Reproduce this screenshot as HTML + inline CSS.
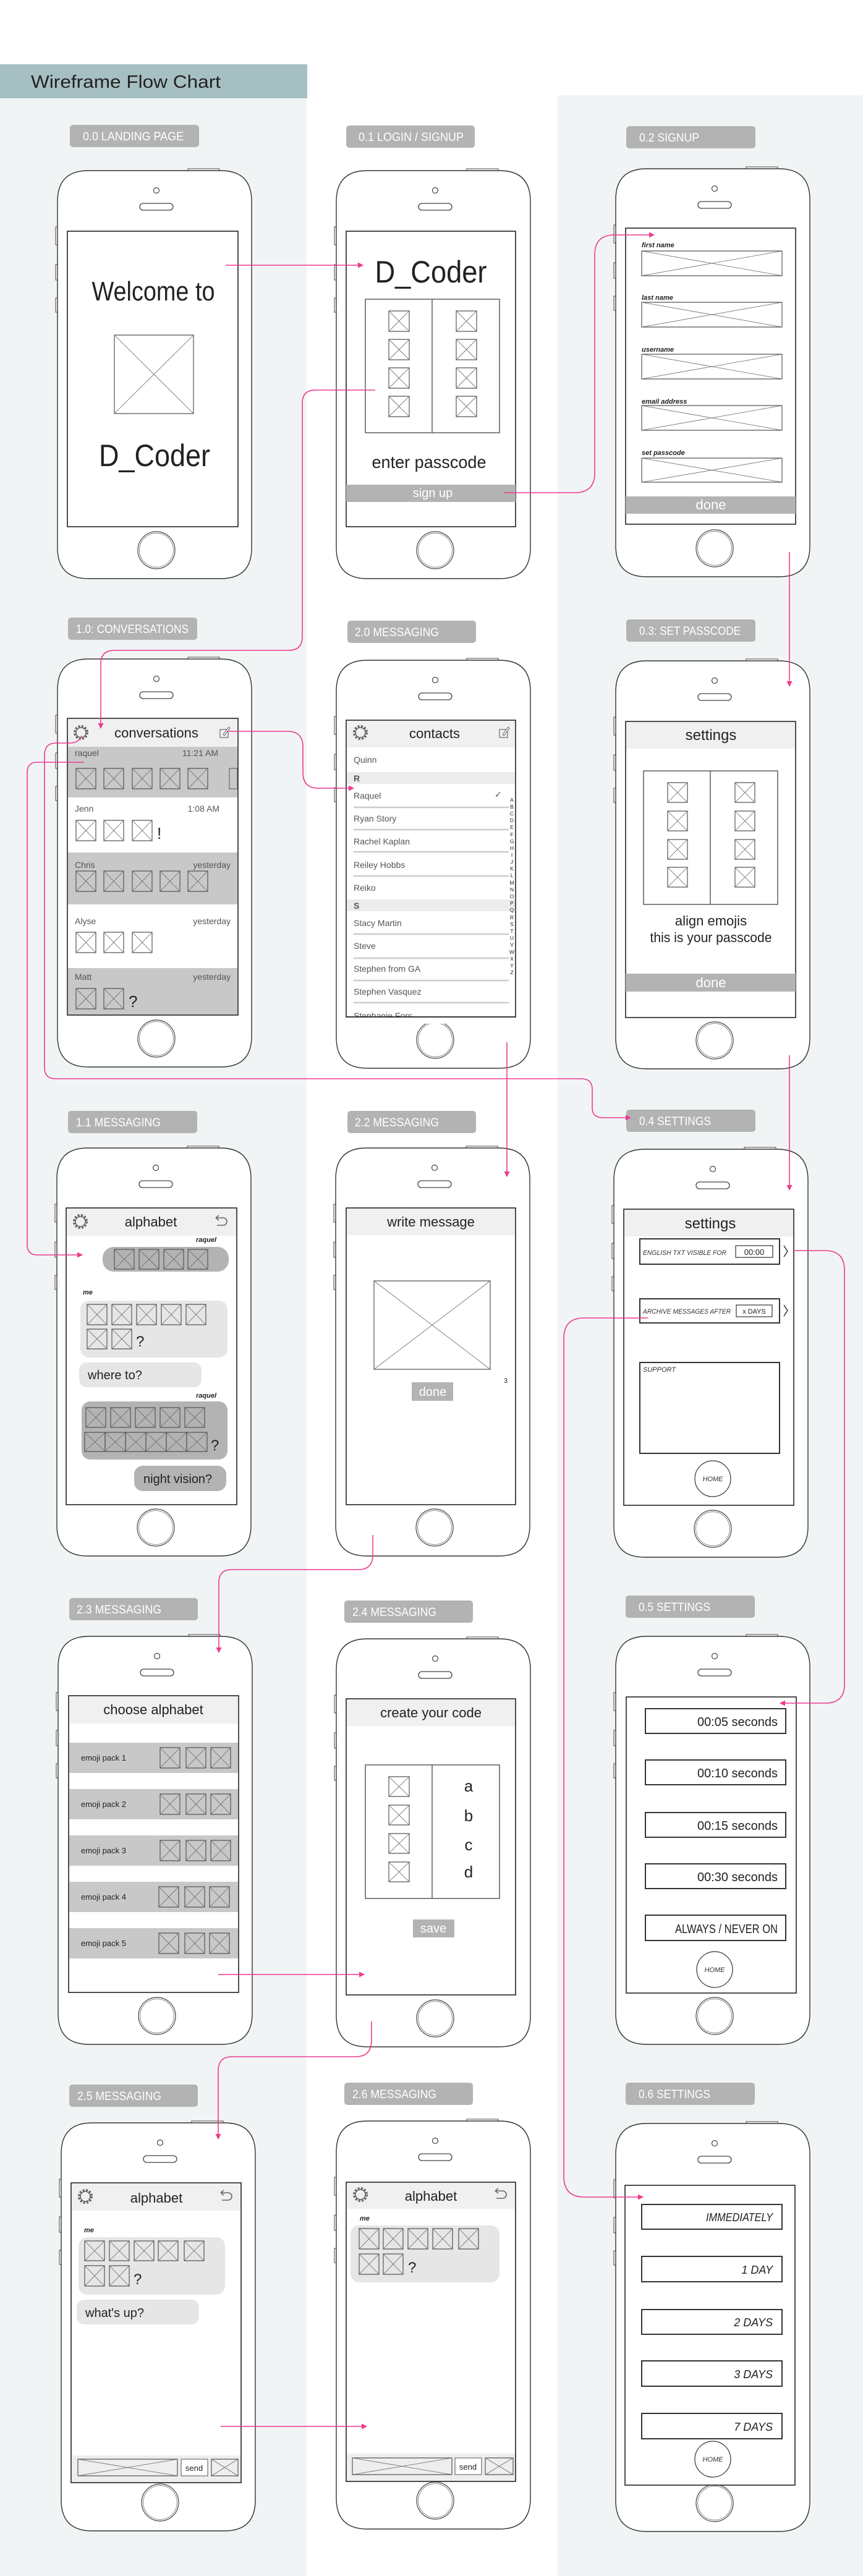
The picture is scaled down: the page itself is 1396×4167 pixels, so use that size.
<!DOCTYPE html>
<html><head><meta charset="utf-8"><style>
html,body{margin:0;padding:0;background:#fff}
svg{display:block}
text{font-family:"Liberation Sans Narrow","Liberation Sans",sans-serif;fill:#222}
.lb{fill:#fff;font-size:19px}
.sm{font-size:14px;fill:#555}
.it{font-style:italic;font-size:11px;fill:#333}
.ib{font-style:italic;font-weight:bold;font-size:11px;fill:#222}
.w{fill:#fff}
.pk{fill:none;stroke:#ee3a8e;stroke-width:1.6}
.scr{fill:#fff;stroke:#222;stroke-width:1.6}
.bx{fill:#fff;stroke:#333;stroke-width:2}
</style></head><body>
<svg width="1396" height="4167" viewBox="0 0 1396 4167" xmlns="http://www.w3.org/2000/svg">
<defs>
<marker id="a" markerWidth="9" markerHeight="9" refX="8" refY="4.5" orient="auto" markerUnits="userSpaceOnUse"><path d="M0,0 L9,4.5 L0,9 z" fill="#ee3a8e"/></marker>
<symbol id="xb" viewBox="0 0 10 10" preserveAspectRatio="none" overflow="visible">
<rect x="0" y="0" width="10" height="10" fill="none" stroke="#555" stroke-width="1.2" vector-effect="non-scaling-stroke"/>
<path d="M0,0 L10,10 M10,0 L0,10" stroke="#666" stroke-width="0.8" vector-effect="non-scaling-stroke"/>
</symbol>
<g id="phone">
<rect x="211" y="-3" width="51" height="4" fill="#fff" stroke="#444" stroke-width="1"/>
<rect x="-3" y="91" width="4" height="29" fill="#fff" stroke="#444" stroke-width="1"/>
<rect x="-3" y="152" width="4" height="25" fill="#fff" stroke="#444" stroke-width="1"/>
<rect x="-3" y="206" width="4" height="23" fill="#fff" stroke="#444" stroke-width="1"/>
<path d="M50,0 H264 Q314,0 314,50 V610 Q314,660 264,660 H50 Q0,660 0,610 V50 Q0,0 50,0Z" fill="#fff" stroke="#333" stroke-width="1.4"/>
<circle cx="160" cy="32" r="4.5" fill="none" stroke="#444" stroke-width="1.2"/>
<rect x="133" y="53" width="54" height="11" rx="5.5" fill="none" stroke="#444" stroke-width="1.3"/>
<circle cx="160" cy="614" r="30" fill="none" stroke="#444" stroke-width="1.2"/>
<circle cx="160" cy="614" r="27.5" fill="none" stroke="#888" stroke-width="1"/>
</g>
<g id="gear"><circle r="10" fill="none" stroke="#666" stroke-width="4" stroke-dasharray="3 2.3"/><circle r="8" fill="#f0f0f0" stroke="#666" stroke-width="1.5"/></g>
<g id="back"><path d="M-8,-6 H4 A6,6 0 0 1 4,6 H-6" fill="none" stroke="#666" stroke-width="1.6"/><path d="M-8,-6 L-3,-10 M-8,-6 L-3,-2" stroke="#666" stroke-width="1.6" fill="none"/></g>
<g id="comp"><rect x="-7" y="-5" width="13" height="13" fill="none" stroke="#777" stroke-width="1.3"/><path d="M-2,3 L7,-9 L9,-7 L0,5 Z" fill="#fff" stroke="#777" stroke-width="1.2"/></g>
</defs>

<!-- backgrounds -->
<rect x="0" y="159" width="496" height="4008" fill="#f1f4f5"/>
<rect x="902" y="154" width="494" height="4013" fill="#f1f4f5"/>
<rect x="0" y="104" width="497" height="55" fill="#a6bfc3"/>
<text x="50" y="142" font-size="29" textLength="307" lengthAdjust="spacingAndGlyphs">Wireframe Flow Chart</text>

<!-- labels -->
<g fill="#b3b3b3">
<rect x="113" y="202" width="209" height="36" rx="5"/><rect x="560" y="203" width="208" height="36" rx="5"/><rect x="1013" y="204" width="209" height="36" rx="5"/>
<rect x="110" y="999" width="209" height="36" rx="5"/><rect x="562" y="1004" width="208" height="36" rx="5"/><rect x="1013" y="1002" width="209" height="36" rx="5"/>
<rect x="110" y="1797" width="209" height="36" rx="5"/><rect x="562" y="1797" width="208" height="36" rx="5"/><rect x="1013" y="1795" width="209" height="36" rx="5"/>
<rect x="112" y="2585" width="208" height="36" rx="5"/><rect x="557" y="2589" width="208" height="36" rx="5"/><rect x="1012" y="2581" width="209" height="36" rx="5"/>
<rect x="112" y="3372" width="208" height="36" rx="5"/><rect x="557" y="3369" width="208" height="36" rx="5"/><rect x="1012" y="3369" width="209" height="36" rx="5"/>
</g>
<text class="lb" x="134" y="227" textLength="163" lengthAdjust="spacingAndGlyphs">0.0 LANDING PAGE</text>
<text class="lb" x="580" y="228" textLength="170" lengthAdjust="spacingAndGlyphs">0.1 LOGIN / SIGNUP</text>
<text class="lb" x="1034" y="229" textLength="97" lengthAdjust="spacingAndGlyphs">0.2 SIGNUP</text>
<text class="lb" x="123" y="1024" textLength="182" lengthAdjust="spacingAndGlyphs">1.0: CONVERSATIONS</text>
<text class="lb" x="574" y="1029" textLength="136" lengthAdjust="spacingAndGlyphs">2.0 MESSAGING</text>
<text class="lb" x="1034" y="1027" textLength="164" lengthAdjust="spacingAndGlyphs">0.3: SET PASSCODE</text>
<text class="lb" x="123" y="1822" textLength="137" lengthAdjust="spacingAndGlyphs">1.1 MESSAGING</text>
<text class="lb" x="574" y="1822" textLength="136" lengthAdjust="spacingAndGlyphs">2.2 MESSAGING</text>
<text class="lb" x="1034" y="1820" textLength="116" lengthAdjust="spacingAndGlyphs">0.4 SETTINGS</text>
<text class="lb" x="124" y="2610" textLength="137" lengthAdjust="spacingAndGlyphs">2.3 MESSAGING</text>
<text class="lb" x="570" y="2614" textLength="136" lengthAdjust="spacingAndGlyphs">2.4 MESSAGING</text>
<text class="lb" x="1033" y="2606" textLength="116" lengthAdjust="spacingAndGlyphs">0.5 SETTINGS</text>
<text class="lb" x="125" y="3397" textLength="136" lengthAdjust="spacingAndGlyphs">2.5 MESSAGING</text>
<text class="lb" x="570" y="3394" textLength="136" lengthAdjust="spacingAndGlyphs">2.6 MESSAGING</text>
<text class="lb" x="1033" y="3394" textLength="116" lengthAdjust="spacingAndGlyphs">0.6 SETTINGS</text>

<!-- phones -->
<use href="#phone" x="93" y="276"/><use href="#phone" x="544" y="276"/><use href="#phone" x="996" y="273"/>
<use href="#phone" x="93" y="1066"/><use href="#phone" x="544" y="1068"/><use href="#phone" x="996" y="1069"/>
<use href="#phone" x="92" y="1857"/><use href="#phone" x="543" y="1857"/><use href="#phone" x="993" y="1859"/>
<use href="#phone" x="94" y="2647"/><use href="#phone" x="544" y="2651"/><use href="#phone" x="996" y="2647"/>
<use href="#phone" x="99" y="3434"/><use href="#phone" x="544" y="3431"/><use href="#phone" x="996" y="3435"/>

<!-- R1 P1 -->
<rect class="scr" x="109" y="374" width="276" height="478"/>
<text x="248" y="486" font-size="44" text-anchor="middle" textLength="199" lengthAdjust="spacingAndGlyphs">Welcome to</text>
<use href="#xb" x="185" y="542" width="128" height="127"/>
<text x="250" y="754" font-size="50" text-anchor="middle" textLength="180" lengthAdjust="spacingAndGlyphs">D_Coder</text>

<!-- R1 P2 -->
<rect class="scr" x="560" y="374" width="274" height="478"/>
<text x="697" y="457" font-size="50" text-anchor="middle" textLength="181" lengthAdjust="spacingAndGlyphs">D_Coder</text>
<rect x="591" y="484" width="217" height="216" fill="none" stroke="#444" stroke-width="1.3"/>
<line x1="699" y1="484" x2="699" y2="700" stroke="#444" stroke-width="1.3"/>
<use href="#xb" x="629" y="503" width="33" height="33"/><use href="#xb" x="738" y="503" width="33" height="33"/>
<use href="#xb" x="629" y="549" width="33" height="33"/><use href="#xb" x="738" y="549" width="33" height="33"/>
<use href="#xb" x="629" y="595" width="33" height="33"/><use href="#xb" x="738" y="595" width="33" height="33"/>
<use href="#xb" x="629" y="641" width="33" height="33"/><use href="#xb" x="738" y="641" width="33" height="33"/>
<text x="694" y="757" font-size="28" text-anchor="middle" textLength="185" lengthAdjust="spacingAndGlyphs">enter passcode</text>
<rect x="560" y="784" width="274" height="28" fill="#b3b3b3"/>
<text class="w" x="700" y="804" font-size="20" text-anchor="middle">sign up</text>

<!-- R1 P3 -->
<rect class="scr" x="1012" y="369" width="275" height="479"/>
<text class="ib" x="1038" y="400">first name</text><use href="#xb" x="1038" y="406" width="227" height="40"/>
<text class="ib" x="1038" y="485">last name</text><use href="#xb" x="1038" y="489" width="227" height="40"/>
<text class="ib" x="1038" y="569">username</text><use href="#xb" x="1038" y="573" width="227" height="40"/>
<text class="ib" x="1038" y="653">email address</text><use href="#xb" x="1038" y="656" width="227" height="40"/>
<text class="ib" x="1038" y="736">set passcode</text><use href="#xb" x="1038" y="741" width="227" height="39"/>
<rect x="1012" y="803" width="275" height="28" fill="#b3b3b3"/>
<text class="w" x="1150" y="824" font-size="22" text-anchor="middle">done</text>

<!-- R2 P1 conversations -->
<rect class="scr" x="109" y="1162" width="276" height="480"/>
<rect x="110" y="1163" width="274" height="45" fill="#f0f0f0"/>
<use href="#gear" x="131" y="1185"/>
<text x="253" y="1193" font-size="22" text-anchor="middle">conversations</text>
<use href="#comp" x="363" y="1185"/>
<rect x="110" y="1208" width="274" height="82" fill="#c8c8c8"/>
<text class="sm" x="121" y="1223">raquel</text><text class="sm" x="353" y="1223" text-anchor="end">11:21 AM</text>
<use href="#xb" x="123" y="1243" width="32" height="33"/><use href="#xb" x="168" y="1243" width="32" height="33"/><use href="#xb" x="214" y="1243" width="32" height="33"/><use href="#xb" x="259" y="1243" width="32" height="33"/><use href="#xb" x="304" y="1243" width="32" height="33"/>
<rect x="371" y="1243" width="13" height="33" fill="none" stroke="#555"/>
<text class="sm" x="121" y="1313">Jenn</text><text class="sm" x="355" y="1313" text-anchor="end">1:08 AM</text>
<use href="#xb" x="123" y="1327" width="32" height="33"/><use href="#xb" x="168" y="1327" width="32" height="33"/><use href="#xb" x="214" y="1327" width="32" height="33"/>
<text x="254" y="1357" font-size="26">!</text>
<rect x="110" y="1379" width="274" height="84" fill="#c8c8c8"/>
<text class="sm" x="121" y="1404">Chris</text><text class="sm" x="373" y="1404" text-anchor="end">yesterday</text>
<use href="#xb" x="123" y="1409" width="32" height="33"/><use href="#xb" x="168" y="1409" width="32" height="33"/><use href="#xb" x="214" y="1409" width="32" height="33"/><use href="#xb" x="259" y="1409" width="32" height="33"/><use href="#xb" x="304" y="1409" width="32" height="33"/>
<text class="sm" x="121" y="1495">Alyse</text><text class="sm" x="373" y="1495" text-anchor="end">yesterday</text>
<use href="#xb" x="123" y="1508" width="32" height="33"/><use href="#xb" x="168" y="1508" width="32" height="33"/><use href="#xb" x="214" y="1508" width="32" height="33"/>
<rect x="110" y="1566" width="274" height="75" fill="#c8c8c8"/>
<text class="sm" x="121" y="1585">Matt</text><text class="sm" x="373" y="1585" text-anchor="end">yesterday</text>
<use href="#xb" x="123" y="1599" width="32" height="33"/><use href="#xb" x="168" y="1599" width="32" height="33"/>
<text x="208" y="1629" font-size="26" fill="#444">?</text>

<!-- R2 P2 contacts -->
<rect class="scr" x="560" y="1165" width="274" height="480"/>
<rect x="561" y="1166" width="272" height="43" fill="#f0f0f0"/>
<use href="#gear" x="583" y="1185"/>
<text x="703" y="1194" font-size="22" text-anchor="middle">contacts</text>
<use href="#comp" x="815" y="1185"/>
<text class="sm" x="572" y="1234">Quinn</text>
<rect x="561" y="1249" width="272" height="19" fill="#ececec"/><text class="sm" x="572" y="1264" font-weight="bold">R</text>
<text class="sm" x="572" y="1292">Raquel</text><text class="sm" x="800" y="1290" font-size="16">✓</text>
<g stroke="#ccc" stroke-width="2.5"><line x1="572" y1="1306" x2="823" y2="1306"/><line x1="572" y1="1342" x2="823" y2="1342"/><line x1="572" y1="1378" x2="823" y2="1378"/><line x1="572" y1="1417" x2="823" y2="1417"/><line x1="572" y1="1511" x2="823" y2="1511"/><line x1="572" y1="1550" x2="823" y2="1550"/><line x1="572" y1="1586" x2="823" y2="1586"/><line x1="572" y1="1622" x2="823" y2="1622"/></g>
<text class="sm" x="572" y="1329">Ryan Story</text>
<text class="sm" x="572" y="1366">Rachel Kaplan</text>
<text class="sm" x="572" y="1404">Reiley Hobbs</text>
<text class="sm" x="572" y="1441">Reiko</text>
<rect x="561" y="1455" width="272" height="19" fill="#ececec"/><text class="sm" x="572" y="1470" font-weight="bold">S</text>
<text class="sm" x="572" y="1498">Stacy Martin</text>
<text class="sm" x="572" y="1535">Steve</text>
<text class="sm" x="572" y="1572">Stephen from GA</text>
<text class="sm" x="572" y="1609">Stephen Vasquez</text>
<text class="sm" x="572" y="1648">Stephanie Fors</text>
<rect x="558" y="1646" width="278" height="10" fill="#fff"/>
<line x1="560" y1="1645" x2="834" y2="1645" stroke="#222" stroke-width="1.6"/>
<g font-size="8.5" text-anchor="middle" fill="#555">
<text x="828" y="1297">A</text><text x="828" y="1308">B</text><text x="828" y="1319">C</text><text x="828" y="1330">D</text><text x="828" y="1341">E</text><text x="828" y="1353">F</text><text x="828" y="1364">G</text><text x="828" y="1375">H</text><text x="828" y="1386">I</text><text x="828" y="1397">J</text><text x="828" y="1408">K</text><text x="828" y="1419">L</text><text x="828" y="1431">M</text><text x="828" y="1442">N</text><text x="828" y="1453">O</text><text x="828" y="1464">P</text><text x="828" y="1475">Q</text><text x="828" y="1487">R</text><text x="828" y="1498">S</text><text x="828" y="1509">T</text><text x="828" y="1520">U</text><text x="828" y="1531">V</text><text x="828" y="1543">W</text><text x="828" y="1554">X</text><text x="828" y="1565">Y</text><text x="828" y="1576">Z</text>
</g>

<!-- R2 P3 set passcode -->
<rect class="scr" x="1012" y="1167" width="275" height="479"/>
<rect x="1013" y="1168" width="273" height="43" fill="#f0f0f0"/>
<text x="1150" y="1197" font-size="24" text-anchor="middle">settings</text>
<rect x="1041" y="1247" width="217" height="216" fill="none" stroke="#444" stroke-width="1.3"/>
<line x1="1149" y1="1247" x2="1149" y2="1463" stroke="#444" stroke-width="1.3"/>
<use href="#xb" x="1080" y="1266" width="32" height="32"/><use href="#xb" x="1189" y="1266" width="32" height="32"/>
<use href="#xb" x="1080" y="1312" width="32" height="32"/><use href="#xb" x="1189" y="1312" width="32" height="32"/>
<use href="#xb" x="1080" y="1358" width="32" height="32"/><use href="#xb" x="1189" y="1358" width="32" height="32"/>
<use href="#xb" x="1080" y="1403" width="32" height="32"/><use href="#xb" x="1189" y="1403" width="32" height="32"/>
<text x="1150" y="1497" font-size="22" text-anchor="middle">align emojis</text>
<text x="1150" y="1524" font-size="22" text-anchor="middle" textLength="197" lengthAdjust="spacingAndGlyphs">this is your passcode</text>
<rect x="1012" y="1575" width="275" height="29" fill="#b3b3b3"/>
<text class="w" x="1150" y="1597" font-size="22" text-anchor="middle">done</text>

<!-- R3 P1 1.1 messaging -->
<rect class="scr" x="107" y="1954" width="276" height="480"/>
<rect x="108" y="1955" width="274" height="44" fill="#f0f0f0"/>
<use href="#gear" x="130" y="1976"/>
<text x="244" y="1984" font-size="22" text-anchor="middle">alphabet</text>
<use href="#back" x="357" y="1976"/>
<text class="ib" x="350" y="2009" text-anchor="end">raquel</text>
<rect x="166" y="2017" width="204" height="40" rx="18" fill="#b3b3b3"/>
<use href="#xb" x="185" y="2021" width="32" height="32"/><use href="#xb" x="225" y="2021" width="32" height="32"/><use href="#xb" x="265" y="2021" width="32" height="32"/><use href="#xb" x="304" y="2021" width="32" height="32"/>
<text class="ib" x="134" y="2094">me</text>
<rect x="130" y="2104" width="238" height="92" rx="14" fill="#e6e6e6"/>
<use href="#xb" x="141" y="2110" width="32" height="33"/><use href="#xb" x="181" y="2110" width="32" height="33"/><use href="#xb" x="221" y="2110" width="32" height="33"/><use href="#xb" x="261" y="2110" width="32" height="33"/><use href="#xb" x="301" y="2110" width="32" height="33"/>
<use href="#xb" x="141" y="2150" width="32" height="32"/><use href="#xb" x="181" y="2150" width="32" height="32"/>
<text x="220" y="2178" font-size="24">?</text>
<rect x="128" y="2204" width="198" height="40" rx="12" fill="#e6e6e6"/>
<text x="142" y="2231" font-size="20">where to?</text>
<text class="ib" x="350" y="2261" text-anchor="end">raquel</text>
<rect x="132" y="2267" width="236" height="94" rx="14" fill="#b3b3b3"/>
<use href="#xb" x="139" y="2277" width="32" height="32"/><use href="#xb" x="179" y="2277" width="32" height="32"/><use href="#xb" x="219" y="2277" width="32" height="32"/><use href="#xb" x="259" y="2277" width="32" height="32"/><use href="#xb" x="299" y="2277" width="32" height="32"/>
<use href="#xb" x="137" y="2317" width="33" height="31"/><use href="#xb" x="170" y="2317" width="33" height="31"/><use href="#xb" x="203" y="2317" width="33" height="31"/><use href="#xb" x="236" y="2317" width="33" height="31"/><use href="#xb" x="269" y="2317" width="33" height="31"/><use href="#xb" x="302" y="2317" width="33" height="31"/>
<text x="341" y="2346" font-size="24">?</text>
<rect x="217" y="2371" width="149" height="41" rx="14" fill="#b3b3b3"/>
<text x="232" y="2399" font-size="20">night vision?</text>

<!-- R3 P2 write message -->
<rect class="scr" x="560" y="1954" width="274" height="480"/>
<rect x="561" y="1955" width="272" height="43" fill="#f0f0f0"/>
<text x="697" y="1984" font-size="22" text-anchor="middle">write message</text>
<use href="#xb" x="605" y="2072" width="188" height="143"/>
<text x="815" y="2237" font-size="11">3</text>
<rect x="666" y="2236" width="67" height="30" fill="#b3b3b3"/>
<text class="w" x="700" y="2258" font-size="20" text-anchor="middle">done</text>

<!-- R3 P3 0.4 settings -->
<rect class="scr" x="1009" y="1956" width="275" height="479"/>
<rect x="1010" y="1957" width="273" height="43" fill="#f0f0f0"/>
<text x="1149" y="1987" font-size="24" text-anchor="middle">settings</text>
<rect class="bx" x="1035" y="2004" width="226" height="41"/>
<text class="it" x="1040" y="2030" textLength="135" lengthAdjust="spacingAndGlyphs">ENGLISH TXT VISIBLE FOR</text>
<rect x="1190" y="2015" width="60" height="19" fill="#fff" stroke="#333" stroke-width="1.2"/>
<text x="1220" y="2030" font-size="13" text-anchor="middle" fill="#333">00:00</text>
<polyline points="1268,2015 1274,2024 1268,2033" fill="none" stroke="#333" stroke-width="1.5"/>
<rect class="bx" x="1035" y="2101" width="226" height="39"/>
<text class="it" x="1040" y="2125" textLength="142" lengthAdjust="spacingAndGlyphs">ARCHIVE MESSAGES AFTER</text>
<rect x="1191" y="2111" width="58" height="19" fill="#fff" stroke="#333" stroke-width="1.2"/>
<text x="1220" y="2125" font-size="11" text-anchor="middle" fill="#333">x DAYS</text>
<polyline points="1268,2111 1274,2120 1268,2129" fill="none" stroke="#333" stroke-width="1.5"/>
<rect class="bx" x="1035" y="2204" width="226" height="147"/>
<text class="it" x="1040" y="2219">SUPPORT</text>
<circle cx="1153" cy="2392" r="29" fill="#fff" stroke="#333" stroke-width="1.2"/>
<text class="it" x="1153" y="2396" text-anchor="middle">HOME</text>

<!-- R4 P1 choose alphabet -->
<rect class="scr" x="111" y="2743" width="275" height="480"/>
<rect x="112" y="2744" width="273" height="44" fill="#f0f0f0"/>
<text x="248" y="2773" font-size="22" text-anchor="middle">choose alphabet</text>
<g fill="#c8c8c8"><rect x="112" y="2819" width="273" height="49"/><rect x="112" y="2894" width="273" height="49"/><rect x="112" y="2969" width="273" height="49"/><rect x="112" y="3044" width="273" height="49"/><rect x="112" y="3119" width="273" height="49"/></g>
<text x="131" y="2848" font-size="13">emoji pack 1</text><text x="131" y="2923" font-size="13">emoji pack 2</text><text x="131" y="2998" font-size="13">emoji pack 3</text><text x="131" y="3073" font-size="13">emoji pack 4</text><text x="131" y="3148" font-size="13">emoji pack 5</text>
<use href="#xb" x="259" y="2827" width="32" height="33"/><use href="#xb" x="301" y="2827" width="32" height="33"/><use href="#xb" x="341" y="2827" width="32" height="33"/>
<use href="#xb" x="259" y="2902" width="32" height="33"/><use href="#xb" x="301" y="2902" width="32" height="33"/><use href="#xb" x="341" y="2902" width="32" height="33"/>
<use href="#xb" x="259" y="2977" width="32" height="33"/><use href="#xb" x="301" y="2977" width="32" height="33"/><use href="#xb" x="341" y="2977" width="32" height="33"/>
<use href="#xb" x="257" y="3052" width="32" height="33"/><use href="#xb" x="299" y="3052" width="32" height="33"/><use href="#xb" x="339" y="3052" width="32" height="33"/>
<use href="#xb" x="257" y="3127" width="32" height="33"/><use href="#xb" x="299" y="3127" width="32" height="33"/><use href="#xb" x="339" y="3127" width="32" height="33"/>

<!-- R4 P2 create your code -->
<rect class="scr" x="560" y="2748" width="274" height="479"/>
<rect x="561" y="2749" width="272" height="43" fill="#f0f0f0"/>
<text x="697" y="2778" font-size="22" text-anchor="middle">create your code</text>
<rect x="591" y="2855" width="217" height="216" fill="none" stroke="#444" stroke-width="1.3"/>
<line x1="699" y1="2855" x2="699" y2="3071" stroke="#444" stroke-width="1.3"/>
<use href="#xb" x="629" y="2874" width="33" height="32"/><use href="#xb" x="629" y="2920" width="33" height="32"/><use href="#xb" x="629" y="2966" width="33" height="32"/><use href="#xb" x="629" y="3012" width="33" height="32"/>
<g font-size="26" text-anchor="middle"><text x="758" y="2898">a</text><text x="758" y="2946">b</text><text x="758" y="2993">c</text><text x="758" y="3037">d</text></g>
<rect x="668" y="3105" width="67" height="29" fill="#b3b3b3"/>
<text class="w" x="701" y="3126" font-size="20" text-anchor="middle">save</text>

<!-- R4 P3 0.5 settings -->
<rect class="scr" x="1013" y="2745" width="275" height="479"/>
<rect class="bx" x="1044" y="2764" width="227" height="40"/><rect class="bx" x="1044" y="2847" width="227" height="40"/><rect class="bx" x="1044" y="2932" width="227" height="40"/><rect class="bx" x="1044" y="3015" width="227" height="40"/><rect class="bx" x="1044" y="3098" width="227" height="41"/>
<g font-size="20" text-anchor="end" fill="#444">
<text x="1258" y="2792" textLength="130" lengthAdjust="spacingAndGlyphs" fill="#444">00:05 seconds</text>
<text x="1258" y="2875" textLength="130" lengthAdjust="spacingAndGlyphs" fill="#444">00:10 seconds</text>
<text x="1258" y="2960" textLength="130" lengthAdjust="spacingAndGlyphs" fill="#444">00:15 seconds</text>
<text x="1258" y="3043" textLength="130" lengthAdjust="spacingAndGlyphs" fill="#444">00:30 seconds</text>
<text x="1258" y="3127" textLength="166" lengthAdjust="spacingAndGlyphs" fill="#444">ALWAYS / NEVER ON</text>
</g>
<circle cx="1156" cy="3186" r="29" fill="#fff" stroke="#333" stroke-width="1.2"/>
<text class="it" x="1156" y="3190" text-anchor="middle">HOME</text>

<!-- R5 P1 2.5 -->
<rect class="scr" x="115" y="3531" width="275" height="485"/>
<rect x="116" y="3532" width="273" height="44" fill="#f0f0f0"/>
<use href="#gear" x="138" y="3553"/>
<text x="253" y="3563" font-size="22" text-anchor="middle">alphabet</text>
<use href="#back" x="365" y="3553"/>
<text class="ib" x="136" y="3611">me</text>
<rect x="127" y="3619" width="237" height="93" rx="14" fill="#e6e6e6"/>
<use href="#xb" x="137" y="3625" width="32" height="32"/><use href="#xb" x="177" y="3625" width="32" height="32"/><use href="#xb" x="217" y="3625" width="32" height="32"/><use href="#xb" x="256" y="3625" width="32" height="32"/><use href="#xb" x="298" y="3625" width="32" height="32"/>
<use href="#xb" x="137" y="3665" width="32" height="33"/><use href="#xb" x="177" y="3665" width="32" height="33"/>
<text x="216" y="3695" font-size="24">?</text>
<rect x="124" y="3720" width="198" height="40" rx="12" fill="#e6e6e6"/>
<text x="138" y="3748" font-size="20">what's up?</text>
<rect x="116" y="3972" width="273" height="43" fill="#eee"/>
<use href="#xb" x="126" y="3978" width="161" height="27"/>
<rect x="293" y="3978" width="43" height="27" fill="#fff" stroke="#555"/><text x="314" y="3997" font-size="13" text-anchor="middle">send</text>
<use href="#xb" x="342" y="3978" width="43" height="27"/>

<!-- R5 P2 2.6 -->
<rect class="scr" x="560" y="3530" width="274" height="484"/>
<rect x="561" y="3531" width="272" height="42" fill="#f0f0f0"/>
<use href="#gear" x="583" y="3550"/>
<text x="697" y="3560" font-size="22" text-anchor="middle">alphabet</text>
<use href="#back" x="809" y="3550"/>
<text class="ib" x="582" y="3592">me</text>
<rect x="567" y="3600" width="241" height="92" rx="14" fill="#e6e6e6"/>
<use href="#xb" x="581" y="3605" width="32" height="33"/><use href="#xb" x="620" y="3605" width="32" height="33"/><use href="#xb" x="660" y="3605" width="32" height="33"/><use href="#xb" x="700" y="3605" width="32" height="33"/><use href="#xb" x="742" y="3605" width="32" height="33"/>
<use href="#xb" x="581" y="3646" width="32" height="33"/><use href="#xb" x="620" y="3646" width="32" height="33"/>
<text x="660" y="3676" font-size="24">?</text>
<rect x="561" y="3969" width="272" height="44" fill="#eee"/>
<use href="#xb" x="570" y="3976" width="161" height="27"/>
<rect x="736" y="3976" width="43" height="27" fill="#fff" stroke="#555"/><text x="757" y="3995" font-size="13" text-anchor="middle">send</text>
<use href="#xb" x="785" y="3976" width="45" height="27"/>

<!-- R5 P3 0.6 -->
<rect class="scr" x="1011" y="3535" width="275" height="485"/>
<rect class="bx" x="1038" y="3566" width="227" height="40"/><rect class="bx" x="1038" y="3650" width="227" height="41"/><rect class="bx" x="1038" y="3736" width="227" height="40"/><rect class="bx" x="1038" y="3819" width="227" height="41"/><rect class="bx" x="1038" y="3904" width="227" height="41"/>
<g font-size="18" font-style="italic" text-anchor="end">
<text x="1250" y="3593" textLength="108" lengthAdjust="spacingAndGlyphs" fill="#333">IMMEDIATELY</text>
<text x="1250" y="3678" fill="#333">1 DAY</text>
<text x="1250" y="3763" fill="#333">2 DAYS</text>
<text x="1250" y="3847" fill="#333">3 DAYS</text>
<text x="1250" y="3932" fill="#333">7 DAYS</text>
</g>
<circle cx="1153" cy="3978" r="29" fill="#fff" stroke="#333" stroke-width="1.2"/>
<text class="it" x="1153" y="3982" text-anchor="middle">HOME</text>

<!-- connectors -->
<g class="pk">
<path d="M365,429 H587" marker-end="url(#a)"/>
<path d="M607,631 H510 Q489,631 489,652 V1030 Q489,1052 467,1052 H185 Q163,1052 163,1074 V1178" marker-end="url(#a)"/>
<path d="M816,797 H930 Q962,797 962,765 V412 Q962,380 994,380 H1058" marker-end="url(#a)"/>
<path d="M1277,893 V1110" marker-end="url(#a)"/>
<path d="M367,1183 H465 Q490,1183 490,1208 V1250 Q490,1275 515,1275 H572" marker-end="url(#a)"/>
<path d="M132,1190 Q128,1202 112,1202 H90 Q72,1202 72,1222 V1727 Q72,1745 90,1745 H940 Q958,1745 958,1762 V1792 Q958,1808 975,1808 H1020" marker-end="url(#a)"/>
<path d="M136,1233 H60 Q44,1233 44,1250 V2013 Q44,2030 60,2030 H133" marker-end="url(#a)"/>
<path d="M820,1686 V1903" marker-end="url(#a)"/>
<path d="M1277,1707 V1925" marker-end="url(#a)"/>
<path d="M603,2483 V2515 Q603,2539 580,2539 H375 Q354,2539 354,2560 V2673" marker-end="url(#a)"/>
<path d="M1283,2023 H1335 Q1366,2023 1366,2055 V2725 Q1366,2755 1335,2755 H1262" marker-end="url(#a)"/>
<path d="M1048,2132 H945 Q912,2132 912,2165 V3520 Q912,3554 945,3554 H1040" marker-end="url(#a)"/>
<path d="M353,3194 H589" marker-end="url(#a)"/>
<path d="M601,3270 V3300 Q601,3327 575,3327 H375 Q353,3327 353,3350 V3460" marker-end="url(#a)"/>
<path d="M357,3925 H593" marker-end="url(#a)"/>
</g>
</svg>
</body></html>
